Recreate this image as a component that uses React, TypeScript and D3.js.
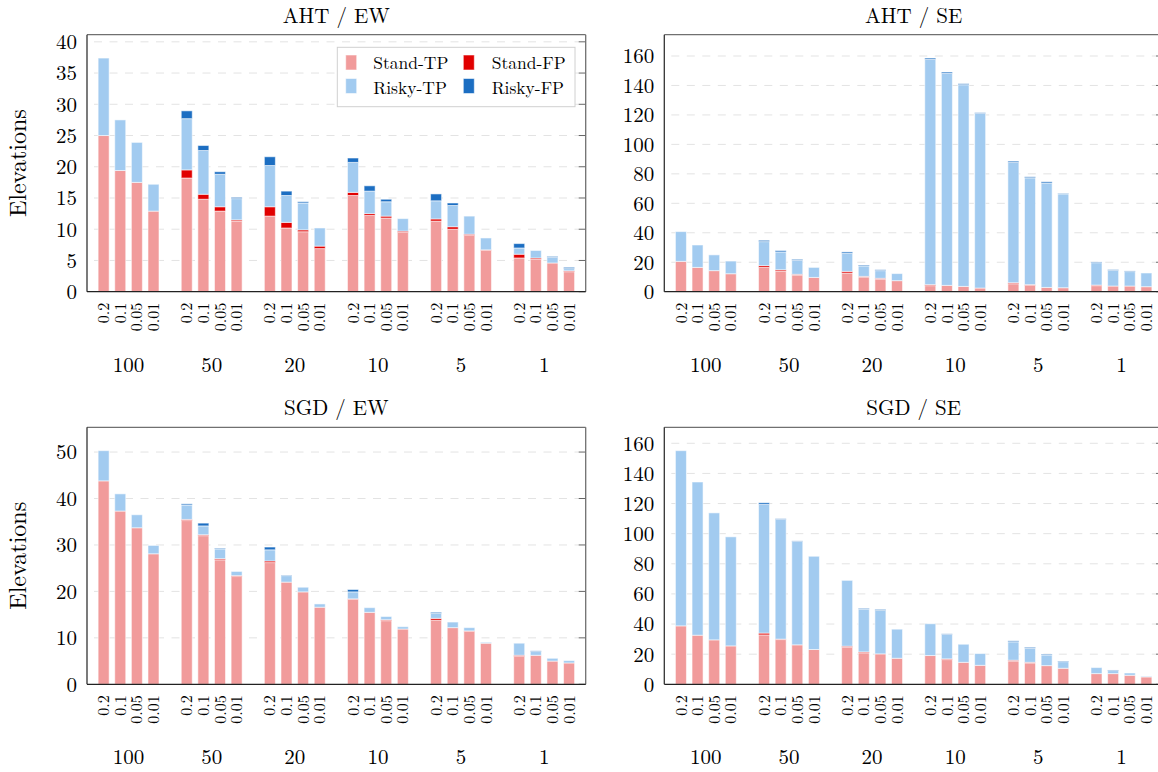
import React from "react";
import * as d3 from "d3";

const groups = ["100", "50", "20", "10", "5", "1"];
const thresholds = ["0.2", "0.1", "0.05", "0.01"];
const seriesNames = ["Stand-TP", "Stand-FP", "Risky-TP", "Risky-FP"];
const seriesColors = ["#F19B9B", "#E10000", "#A2CBF0", "#1C6EC2"];

// AHT / EW
const ahtEwStandTP = [25.0, 19.4, 17.5, 12.9, 18.2, 14.8, 12.9, 11.3, 12.1, 10.2, 9.6, 6.9, 15.4, 12.2, 11.8, 9.5, 11.3, 10.0, 9.0, 6.6, 5.4, 5.2, 4.6, 3.2];
const ahtEwStandFP = [0, 0, 0, 0, 1.3, 0.8, 0.7, 0.2, 1.5, 0.9, 0.3, 0.4, 0.5, 0.3, 0.3, 0.2, 0.35, 0.4, 0.2, 0.1, 0.6, 0.2, 0, 0.15];
const ahtEwRiskyTP = [12.4, 8.1, 6.4, 4.3, 8.2, 7.0, 5.2, 3.4, 6.6, 4.3, 4.3, 2.9, 4.8, 3.6, 2.3, 2.0, 2.9, 3.4, 2.9, 1.9, 1.0, 1.2, 0.9, 0.35];
const ahtEwRiskyFP = [0, 0, 0, 0, 1.25, 0.8, 0.4, 0.2, 1.4, 0.7, 0.2, 0, 0.7, 0.85, 0.4, 0, 1.1, 0.4, 0, 0, 0.7, 0, 0.15, 0.2];

// AHT / SE
const ahtSeStandTP = [20.6, 16.5, 14.3, 12.2, 16.5, 14.0, 11.3, 9.7, 12.7, 10.0, 8.6, 7.5, 4.1, 4.3, 3.6, 2.5, 5.4, 4.3, 2.9, 2.7, 4.1, 3.85, 3.85, 3.4];
const ahtSeStandFP = [0, 0, 0, 0, 1.2, 0.9, 0.5, 0, 1.1, 0.4, 0.5, 0, 0.7, 0, 0, 0, 0.7, 0.5, 0, 0, 0.4, 0, 0, 0];
const ahtSeRiskyTP = [20.2, 15.2, 10.7, 8.6, 16.3, 12.1, 9.5, 6.8, 12.3, 7.1, 5.2, 4.8, 152.9, 143.9, 136.9, 118.5, 81.6, 72.5, 70.8, 63.7, 15.2, 10.6, 9.8, 9.3];
const ahtSeRiskyFP = [0, 0, 0, 0, 0.9, 0.9, 0.7, 0, 0.9, 0.6, 0.6, 0, 0.9, 0.9, 0.7, 0.5, 0.9, 0.7, 0.9, 0.3, 0.5, 0.5, 0.45, 0];

// SGD / EW
const sgdEwStandTP = [43.8, 37.3, 33.7, 28.1, 35.25, 32.0, 26.8, 23.2, 26.2, 22.0, 19.9, 16.6, 18.3, 15.5, 13.7, 11.9, 13.8, 12.2, 11.4, 8.85, 6.0, 6.25, 5.0, 4.6];
const sgdEwStandFP = [0, 0, 0, 0, 0.25, 0.2, 0.25, 0.2, 0.35, 0, 0, 0, 0.1, 0, 0.2, 0, 0.4, 0, 0.1, 0, 0.25, 0, 0, 0];
const sgdEwRiskyTP = [6.5, 3.7, 2.8, 1.8, 3.1, 1.9, 2.1, 0.9, 2.4, 1.4, 1.0, 0.7, 1.5, 1.0, 0.7, 0.5, 1.05, 1.2, 0.7, 0.2, 2.6, 0.8, 0.6, 0.5];
const sgdEwRiskyFP = [0, 0, 0, 0, 0.25, 0.6, 0.15, 0, 0.6, 0.1, 0, 0, 0.5, 0, 0, 0, 0.25, 0, 0, 0, 0, 0.15, 0, 0];

// SGD / SE
const sgdSeStandTP = [38.8, 32.6, 29.5, 25.5, 32.8, 29.7, 26.2, 23.1, 24.6, 20.9, 20.2, 17.3, 19.1, 16.4, 14.6, 12.6, 15.5, 14.2, 12.4, 10.65, 7.1, 7.1, 6.0, 4.9];
const sgdSeStandFP = [0, 0, 0, 0, 1.2, 0.3, 0, 0, 0.7, 0.6, 0, 0, 0, 0.5, 0, 0, 0.5, 0.4, 0, 0, 0, 0, 0, 0];
const sgdSeRiskyTP = [116.3, 101.7, 84.3, 72.4, 85.4, 79.4, 68.6, 61.9, 43.7, 28.4, 28.8, 19.3, 21.1, 16.2, 12.0, 7.8, 12.2, 9.4, 7.1, 4.4, 4.0, 2.0, 1.5, 0.4];
const sgdSeRiskyFP = [0, 0, 0, 0, 1.1, 0.5, 0.4, 0, 0, 0.5, 0.7, 0, 0, 0.4, 0, 0, 0.65, 0.6, 0.5, 0.4, 0, 0.4, 0, 0];

const ticksTL = [0, 5, 10, 15, 20, 25, 30, 35, 40];
const ticksTR = [0, 20, 40, 60, 80, 100, 120, 140, 160];
const ticksBL = [0, 10, 20, 30, 40, 50];
const ticksBR = [0, 20, 40, 60, 80, 100, 120, 140, 160];

const FONT = "'Latin Modern Roman', 'CMU Serif', 'Liberation Serif', serif";
const PW = 498.7;
const PH = 257;

type PanelProps = {
  x0: number;
  y0: number;
  title: string;
  series: number[][];
  ticks: number[];
  yLabel?: boolean;
  legend?: boolean;
};

function Panel({ x0, y0, title, series, ticks, yLabel, legend }: PanelProps) {
  const x = d3.scaleLinear().domain([-1, 29]).range([x0, x0 + PW]);
  const n = series[0].length;
  const totals = d3.range(n).map((i) => d3.sum(series, (s) => s[i]));
  const yMax = (d3.max(totals) as number) * 1.1;
  const y = d3.scaleLinear().domain([0, yMax]).range([y0 + PH, y0]);
  const stack = d3.stack<number>().keys([0, 1, 2, 3] as any).value((i: number, k: any) => series[k][i]);
  const stacked = stack(d3.range(n));
  const barW = 11;
  const idx = (i: number) => Math.floor(i / 4) * 5 + (i % 4);
  const yb = y0 + PH;
  const x1 = x0 + PW;
  return (
    <g>
      <text x={x0 + PW / 2} y={y0 - 12} textAnchor="middle" fontSize={21} fontFamily={FONT}>
        {title}
      </text>
      {yLabel && (
        <text transform={`translate(${x0 - 61},${y0 + PH / 2}) rotate(-90)`} textAnchor="middle" fontSize={24} fontFamily={FONT}>
          Elevations
        </text>
      )}
      {ticks.map((t) => (
        <g key={t}>
          {t > 0 && (
            <line x1={x0 + 7} x2={x1 - 7} y1={y(t)} y2={y(t)} stroke="#e3e3e3" strokeWidth={1} strokeDasharray="8 7.5" />
          )}
          <line x1={x1 - 7} x2={x1} y1={y(t)} y2={y(t)} stroke="#666" strokeWidth={1} />
          <text x={x0 - 10} y={y(t)} dy="0.35em" textAnchor="end" fontSize={21} fontFamily={FONT}>
            {t}
          </text>
        </g>
      ))}
      {stacked.map((layer, k) => (
        <g key={k}>
          {layer.map((d, i) =>
            d[1] - d[0] > 0 ? (
              <rect
                key={i}
                x={x(idx(i)) - barW / 2}
                y={y(d[1])}
                width={barW}
                height={y(d[0]) - y(d[1])}
                fill={seriesColors[k]}
                stroke="#ffffff"
                strokeOpacity={0.55}
                strokeWidth={1}
              />
            ) : null
          )}
        </g>
      ))}
      <line x1={x0} x2={x1} y1={y0} y2={y0} stroke="#707070" strokeWidth={1.3} />
      <line x1={x1} x2={x1} y1={y0} y2={yb} stroke="#707070" strokeWidth={1.3} />
      <line x1={x0} x2={x0} y1={y0} y2={yb} stroke="#333" strokeWidth={1.3} />
      <line x1={x0} x2={x1} y1={yb} y2={yb} stroke="#222" strokeWidth={1.3} />
      {d3.range(n).map((i) => (
        <text
          key={i}
          transform={`translate(${x(idx(i))},${yb + 11}) rotate(-90)`}
          textAnchor="end"
          dy="0.35em"
          fontSize={16}
          fontFamily={FONT}
        >
          {thresholds[i % 4]}
        </text>
      ))}
      {groups.map((g, gi) => (
        <text key={g} x={x(gi * 5 + 1.5)} y={yb + 80} textAnchor="middle" fontSize={21} fontFamily={FONT}>
          {g}
        </text>
      ))}
      {legend && (
        <g>
          <rect x={337.3} y={47.3} width={237.7} height={59.4} fill="#fff" stroke="#d0d0d0" strokeWidth={1} />
          {seriesNames.map((name, k) => {
            const col = k % 2 === 0 ? 0 : 1;
            const row = k < 2 ? 0 : 1;
            const sx = col === 0 ? 345.7 : 463.3;
            const tx = col === 0 ? 373.3 : 491.7;
            const sy = row === 0 ? 55 : 78.5;
            const ty = row === 0 ? 69.3 : 93.5;
            return (
              <g key={name}>
                <rect x={sx} y={sy} width={11} height={15} fill={seriesColors[k]} stroke="#fff" strokeOpacity={0.55} />
                <text x={tx} y={ty} fontSize={17.5} fontFamily={FONT}>
                  {name}
                </text>
              </g>
            );
          })}
        </g>
      )}
    </g>
  );
}

export default function App() {
  return (
    <div style={{ position: "absolute", left: 0, top: 0 }}>
      <svg width={1158} height={772} style={{ display: "block", background: "#fff" }}>
        <Panel
          x0={87}
          y0={34.7}
          title="AHT / EW"
          series={[ahtEwStandTP, ahtEwStandFP, ahtEwRiskyTP, ahtEwRiskyFP]}
          ticks={ticksTL}
          yLabel
          legend
        />
        <Panel
          x0={664.3}
          y0={34.7}
          title="AHT / SE"
          series={[ahtSeStandTP, ahtSeStandFP, ahtSeRiskyTP, ahtSeRiskyFP]}
          ticks={ticksTR}
        />
        <Panel
          x0={87}
          y0={427.3}
          title="SGD / EW"
          series={[sgdEwStandTP, sgdEwStandFP, sgdEwRiskyTP, sgdEwRiskyFP]}
          ticks={ticksBL}
          yLabel
        />
        <Panel
          x0={664.3}
          y0={427.3}
          title="SGD / SE"
          series={[sgdSeStandTP, sgdSeStandFP, sgdSeRiskyTP, sgdSeRiskyFP]}
          ticks={ticksBR}
        />
      </svg>
    </div>
  );
}
